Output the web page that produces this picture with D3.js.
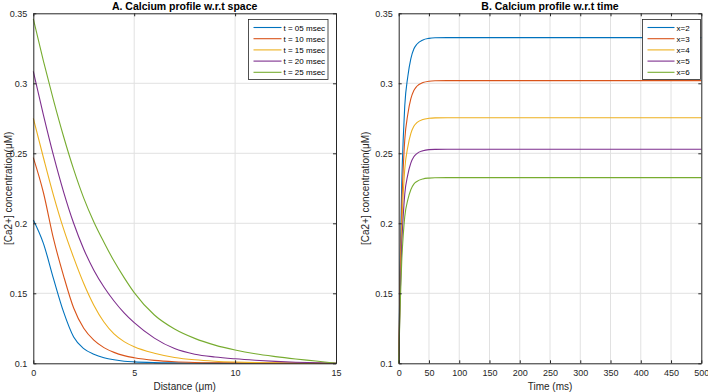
<!DOCTYPE html>
<html>
<head>
<meta charset="utf-8">
<script src="https://cdn.jsdelivr.net/npm/d3@7"></script>
<style>
  body { margin: 0; background: #fff; }
  svg { font-family: "Liberation Sans", Arial, sans-serif; }
  .grid line { stroke: #e1e1e1; stroke-width: 1; }
  .axis text { fill: #262626; font-size: 9px; }
  .axis path, .axis line { stroke: #262626; }
  .title { font-weight: bold; font-size: 10.5px; fill: #000; }
  .label { font-size: 10px; fill: #262626; }
  .legend text { font-size: 8px; fill: #000; }
</style>
</head>
<body>
<svg id="chart" width="708" height="392"></svg>
<script>
// colours (MATLAB default order)
var colors = ["#0072BD", "#D95319", "#EDB120", "#7E2F8E", "#77AC30"];

// panel A: profile w.r.t. space
var distance = [0, 0.5, 1, 1.5, 2, 2.5, 3, 3.5, 4, 4.5, 5, 6, 7, 8, 9, 10, 11, 12, 13, 14, 15];
var spaceNames = ["t = 05 msec", "t = 10 msec", "t = 15 msec", "t = 20 msec", "t = 25 msec"];
var t05 = [0.2024, 0.1857, 0.1605, 0.1367, 0.1188, 0.1105, 0.1065, 0.1040, 0.1025, 0.1015, 0.1010, 0.1005, 0.1003, 0.1002, 0.1001, 0.1001, 0.1000, 0.1000, 0.1000, 0.1000, 0.1000];
var t10 = [0.2469, 0.2220, 0.1890, 0.1625, 0.1395, 0.1250, 0.1165, 0.1112, 0.1078, 0.1055, 0.1040, 0.1021, 0.1011, 0.1006, 0.1004, 0.1003, 0.1002, 0.1001, 0.1001, 0.1000, 0.1000];
var t15 = [0.2750, 0.2470, 0.2200, 0.1960, 0.1755, 0.1570, 0.1415, 0.1295, 0.1210, 0.1155, 0.1118, 0.1072, 0.1042, 0.1025, 0.1015, 0.1009, 0.1005, 0.1003, 0.1002, 0.1001, 0.1000];
var t20 = [0.3085, 0.2775, 0.2485, 0.2225, 0.2000, 0.1815, 0.1665, 0.1545, 0.1445, 0.1360, 0.1290, 0.1180, 0.1105, 0.1065, 0.1045, 0.1032, 0.1022, 0.1014, 0.1008, 0.1004, 0.1000];
var t25 = [0.3460, 0.3160, 0.2880, 0.2620, 0.2385, 0.2180, 0.2010, 0.1865, 0.1730, 0.1612, 0.1505, 0.1345, 0.1245, 0.1178, 0.1130, 0.1095, 0.1068, 0.1048, 0.1031, 0.1016, 0.1000];

// panel B: profile w.r.t. time
var time = [0, 2.5, 5, 7.5, 10, 15, 20, 25, 30, 40, 50, 60, 80, 500];
var timeNames = ["x=2", "x=3", "x=4", "x=5", "x=6"];
var x2 = [0.1, 0.1744, 0.2279, 0.2605, 0.2838, 0.3047, 0.3175, 0.3245, 0.3279, 0.3310, 0.3321, 0.3325, 0.3326, 0.3326];
var x3 = [0.1, 0.1646, 0.2110, 0.2393, 0.2595, 0.2777, 0.2888, 0.2948, 0.2979, 0.3005, 0.3015, 0.3018, 0.3019, 0.3019];
var x4 = [0.1, 0.1561, 0.1965, 0.2210, 0.2386, 0.2544, 0.2640, 0.2693, 0.2719, 0.2742, 0.2750, 0.2753, 0.2754, 0.2754];
var x5 = [0.1, 0.1489, 0.1841, 0.2055, 0.2208, 0.2346, 0.2430, 0.2475, 0.2498, 0.2518, 0.2526, 0.2528, 0.2529, 0.2529];
var x6 = [0.1, 0.1424, 0.1729, 0.1915, 0.2048, 0.2167, 0.2240, 0.2280, 0.2299, 0.2317, 0.2323, 0.2325, 0.2326, 0.2326];

var yTicks = [0.1, 0.15, 0.2, 0.25, 0.3, 0.35];
var distTicks = [0, 5, 10, 15];
var timeTicks = [0, 50, 100, 150, 200, 250, 300, 350, 400, 450, 500];

var svg = d3.select("#chart");

function panel(opt) {
    var x = d3.scaleLinear().domain(opt.xDomain).range([opt.left, opt.right]);
    var y = d3.scaleLinear().domain([0.1, 0.35]).range([363.3, 13.3]);
    var g = svg.append("g");

    // grid
    var grid = g.append("g").attr("class", "grid");
    grid.selectAll(".gx").data(opt.xTicks.slice(1, -1)).enter().append("line")
        .attr("x1", d => x(d)).attr("x2", d => x(d))
        .attr("y1", y(0.35)).attr("y2", y(0.1));
    grid.selectAll(".gy").data(yTicks.slice(1, -1)).enter().append("line")
        .attr("x1", opt.left).attr("x2", opt.right)
        .attr("y1", d => y(d)).attr("y2", d => y(d));

    // lines
    var line = d3.line().curve(d3.curveMonotoneX).x(d => x(d[0])).y(d => y(d[1]));
    opt.series.forEach(function(s, i) {
        g.append("path")
            .datum(opt.xs.map((v, j) => [v, s[j]]))
            .attr("fill", "none")
            .attr("stroke", colors[i])
            .attr("stroke-width", 1.1)
            .attr("d", line);
    });

    // axes with inward ticks
    g.append("g").attr("class", "axis")
        .attr("transform", "translate(0," + y(0.1) + ")")
        .call(d3.axisBottom(x).tickValues(opt.xTicks).tickSizeInner(-3).tickSizeOuter(0).tickPadding(6).tickFormat(d3.format("")));
    g.append("g").attr("class", "axis")
        .attr("transform", "translate(0," + y(0.35) + ")")
        .call(d3.axisTop(x).tickValues(opt.xTicks).tickSizeInner(-3).tickSizeOuter(0).tickFormat(""));
    g.append("g").attr("class", "axis")
        .attr("transform", "translate(" + opt.left + ",0)")
        .call(d3.axisLeft(y).tickValues(yTicks).tickSizeInner(-3).tickSizeOuter(0).tickPadding(6).tickFormat(d3.format("")));
    g.append("g").attr("class", "axis")
        .attr("transform", "translate(" + opt.right + ",0)")
        .call(d3.axisRight(y).tickValues(yTicks).tickSizeInner(-3).tickSizeOuter(0).tickFormat(""));

    var cx = (opt.left + opt.right) / 2;
    g.append("text").attr("class", "title").attr("x", cx).attr("y", 9.5)
        .attr("text-anchor", "middle").text(opt.title);
    g.append("text").attr("class", "label").attr("x", cx).attr("y", 390)
        .attr("text-anchor", "middle").text(opt.xLabel);
    g.append("text").attr("class", "label")
        .attr("transform", "translate(" + opt.yLabelX + "," + y(0.225) + ") rotate(-90)")
        .attr("text-anchor", "middle").text("[Ca2+] concentration(\u03bcM)");

    // legend
    var lg = g.append("g").attr("class", "legend");
    lg.append("rect").attr("x", opt.leg.x).attr("y", 19.5)
        .attr("width", opt.leg.w).attr("height", 60)
        .attr("fill", "#fff").attr("stroke", "#262626").attr("stroke-width", 0.8);
    opt.names.forEach(function(n, i) {
        var ly = 27.5 + i * 11.2;
        lg.append("line").attr("x1", opt.leg.x + 5).attr("x2", opt.leg.x + 5 + opt.leg.line)
            .attr("y1", ly).attr("y2", ly).attr("stroke", colors[i]).attr("stroke-width", 1.1);
        lg.append("text").attr("x", opt.leg.x + 7 + opt.leg.line).attr("y", ly + 3).text(n);
    });
}

panel({
    xDomain: [0, 15], left: 33.3, right: 336, xs: distance,
    series: [t05, t10, t15, t20, t25], names: spaceNames, xTicks: distTicks,
    title: "A. Calcium profile w.r.t space", xLabel: "Distance (\u03bcm)", yLabelX: 11.5,
    leg: {x: 248.5, w: 79.5, line: 28}
});
panel({
    xDomain: [0, 500], left: 398.7, right: 701.3, xs: time,
    series: [x2, x3, x4, x5, x6], names: timeNames, xTicks: timeTicks,
    title: "B. Calcium profile w.r.t time", xLabel: "Time (ms)", yLabelX: 369,
    leg: {x: 642.5, w: 58, line: 27}
});
</script>
</body>
</html>
